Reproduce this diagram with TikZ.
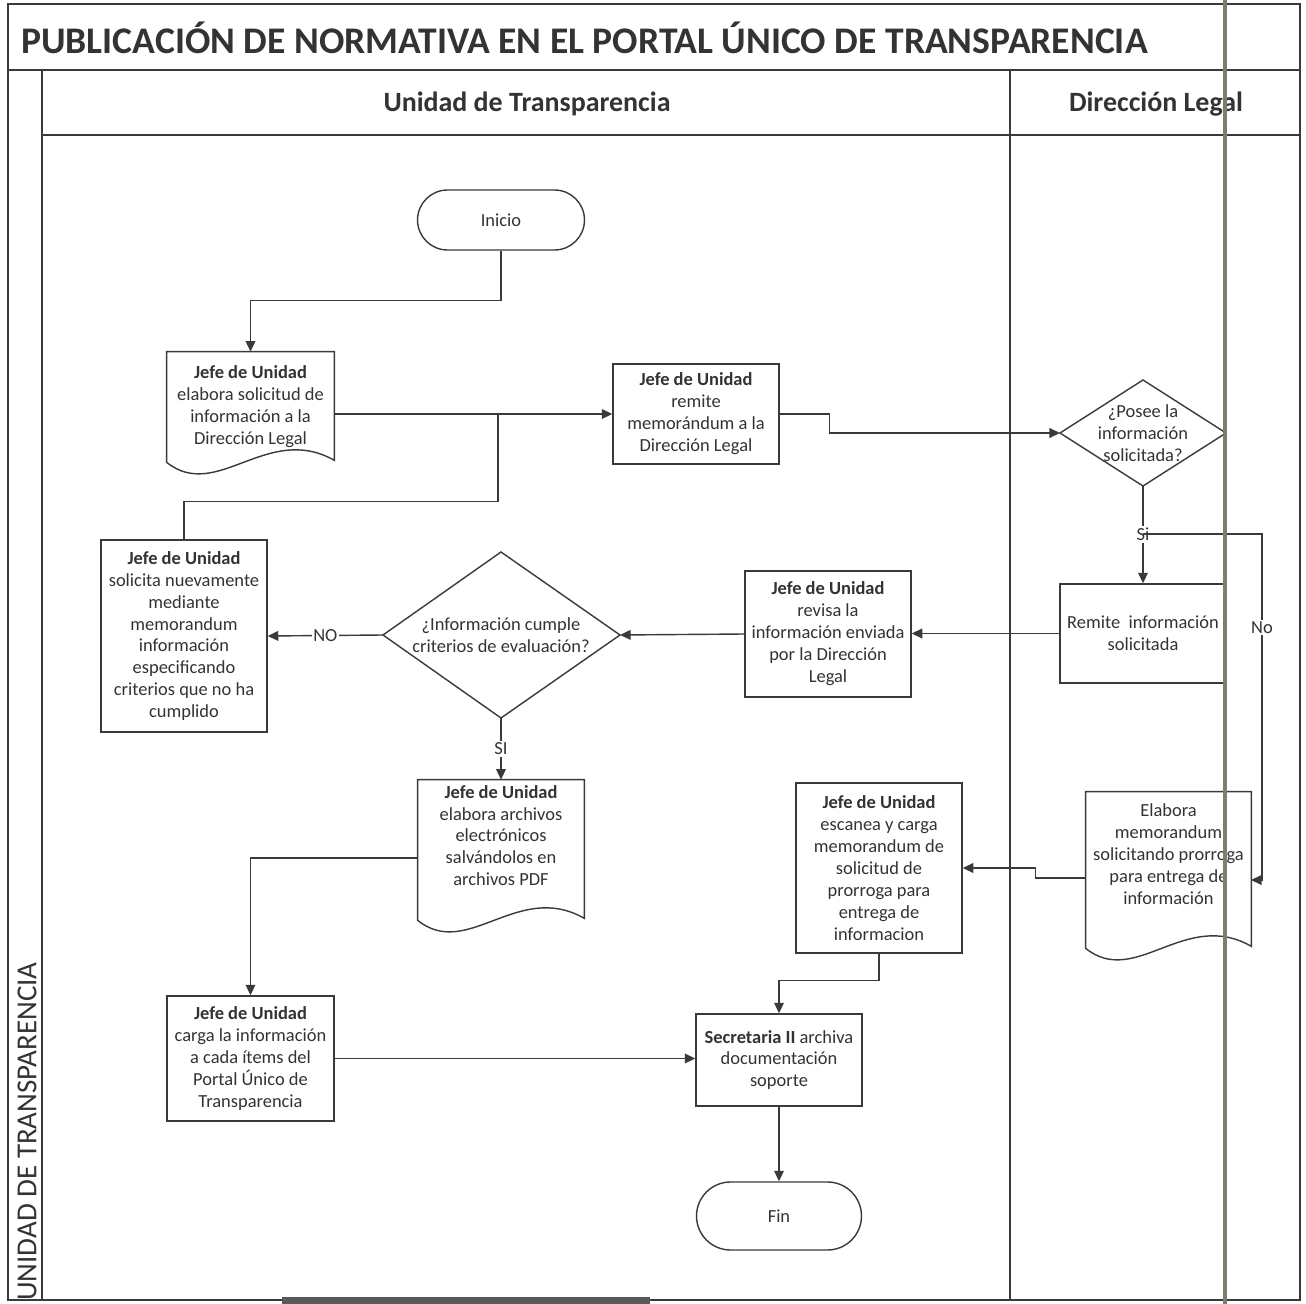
\documentclass[tikz,border=0pt]{standalone}
\usepackage{fontspec}
\setmainfont{Carlito}
\usetikzlibrary{arrows.meta,calc,shapes.misc}
\definecolor{ln}{HTML}{3A3A3A}
\definecolor{tx}{HTML}{333333}
\definecolor{paper}{HTML}{7D7D70}
\newcommand\fs{\fontsize{10.5}{12.5}\selectfont}
\newcommand\docoutline[1]{\draw[ln] (#1.north west) -- (#1.north east) -- ($(#1.south east)+(0,-2)$) .. controls ($(#1.south west)!0.6!(#1.south east)+(0,-40)$) and ($(#1.south west)!0.3!(#1.south east)+(0,40)$) .. (#1.south west) -- cycle;}
\begin{document}
\begin{tikzpicture}[x=0.02cm,y=-0.02cm,
  ln/.style={draw=ln, line width=0.8pt},
  frame/.style={draw=ln, line width=0.9pt},
  box/.style={draw=ln, line width=0.8pt, align=center, text=tx, font=\fs, inner sep=2pt},
  plain/.style={align=center, text=tx, font=\fs, inner sep=2pt},
  term/.style={box, rounded rectangle},
  arr/.style={draw=ln, line width=0.8pt, -{Triangle[length=6pt,width=5.5pt]}},
  lbl/.style={fill=white, text=tx, font=\fs, inner sep=1pt}]
\useasboundingbox (0,0) rectangle (1306,1304);
\fill[white] (0,0) rectangle (1306,1304);

% frame
\draw[frame] (8,4) rectangle (1300,1300);
\draw[frame] (8,70) -- (1300,70);
\draw[frame] (42,70) -- (42,1300);
\draw[frame] (42,135) -- (1300,135);
\draw[frame] (1010,70) -- (1010,1300);
\node[anchor=west, text=tx, font=\fontsize{21.4}{25}\selectfont\bfseries, inner sep=0pt] (title) at (21,38) {PUBLICACIÓN DE NORMATIVA EN EL PORTAL ÚNICO DE TRANSPARENCIA};
\node[text=tx, font=\fontsize{15.9}{19}\selectfont\bfseries] (h1) at (527,104) {Unidad de Transparencia};
\node[text=tx, font=\fontsize{15.9}{19}\selectfont\bfseries] (h2) at (1156,104) {Dirección Legal};
\node[rotate=90, anchor=west, text=tx, font=\fontsize{16.5}{20}\selectfont, inner sep=0pt] (lane) at (27,1301) {UNIDAD DE TRANSPARENCIA};

% nodes
\node[term, minimum width=174*0.02cm, minimum height=60*0.02cm] (ini) at (501,220) {Inicio};
\node[plain, minimum width=167*0.02cm, minimum height=110*0.02cm] (A) at (250.5,407) {\textbf{Jefe de Unidad}\\elabora solicitud de\\información a la\\Dirección Legal};
\docoutline{A}
\node[box, minimum width=166*0.02cm, minimum height=100*0.02cm] (B) at (696,414) {\textbf{Jefe de Unidad}\\remite\\memorándum a la\\Dirección Legal};
\node[plain] (d1) at (1143,433) {¿Posee la\\información\\solicitada?};
\coordinate (d1n) at (1143,380);
\coordinate (d1e) at (1226,433);
\coordinate (d1s) at (1143,486);
\coordinate (d1w) at (1060,433);
\draw[ln] (d1n) -- (d1e) -- (d1s) -- (d1w) -- cycle;
\node[box, minimum width=166*0.02cm, minimum height=99*0.02cm] (E) at (1143,633.5) {Remite \ información\\solicitada};
\node[box, minimum width=166*0.02cm, minimum height=126*0.02cm] (G) at (828,634) {\textbf{Jefe de Unidad}\\revisa la\\información enviada\\por la Dirección\\Legal};
\node[plain] (d2) at (501,635) {¿Información cumple\\criterios de evaluación?};
\coordinate (d2n) at (501,552);
\coordinate (d2e) at (620,635);
\coordinate (d2s) at (501,718);
\coordinate (d2w) at (383,635);
\draw[ln] (d2n) -- (d2e) -- (d2s) -- (d2w) -- cycle;
\node[box, minimum width=166*0.02cm, minimum height=192*0.02cm] (C) at (184,636) {\textbf{Jefe de Unidad}\\solicita nuevamente\\mediante\\memorandum\\información\\especificando\\criterios que no ha\\cumplido};
\node[plain, minimum width=166*0.02cm, minimum height=140*0.02cm] (H) at (501,850) {\textbf{Jefe de Unidad}\\elabora archivos\\electrónicos\\salvándolos en\\archivos PDF\\[4pt]};
\docoutline{H}
\node[plain, minimum width=165*0.02cm, minimum height=156*0.02cm] (F) at (1168.5,870) {Elabora\\memorandum\\solicitando prorroga\\para entrega de\\información\\[6pt]};
\docoutline{F}
\node[box, minimum width=166*0.02cm, minimum height=170*0.02cm] (K) at (879,868) {\textbf{Jefe de Unidad}\\escanea y carga\\memorandum de\\solicitud de\\prorroga para\\entrega de\\informacion};
\node[box, minimum width=167*0.02cm, minimum height=125*0.02cm] (I) at (250.5,1058.5) {\textbf{Jefe de Unidad}\\carga la información\\a cada ítems del\\Portal Único de\\Transparencia};
\node[box, minimum width=166*0.02cm, minimum height=92*0.02cm] (J) at (779,1060) {\textbf{Secretaria II} archiva\\documentación\\soporte};
\node[term, minimum width=172*0.02cm, minimum height=68*0.02cm] (fin) at (779,1216) {Fin};

% connectors
\coordinate (m1) at (498,414);
\draw[arr] (ini.south) -- ++(0,50) -| (A.north);
\draw[arr] (A.east |- B.west) -- (B.west);
\draw[ln] (C.north) -- ++(0,-38) -| (m1);
\draw[arr] (B.east) -- ++(50,0) |- (d1w);
\draw[arr] (d1s) -- node[lbl, pos=0.5]{Si} (E.north);
\coordinate (br) at (1143,534);
\draw[arr] (br) -- ++(119,0) -- node[lbl, pos=0.27]{No} ++(0,346) -- ++(-11,0);
\draw[arr] (E.west) -- (E.west -| G.east);
\draw[arr] (G.west) -- (d2e);
\draw[arr] (d2w) -- node[lbl]{NO} (C.east);
\draw[arr] (d2s) -- node[lbl]{SI} (H.north);
\draw[arr] ([yshift=-0.16cm]H.west) -| (I.north);
\draw[arr] (I.east) -- (I.east -| J.west);
\draw[arr] (J.south) -- (fin.north);
\draw[arr] ([yshift=-0.16cm]F.west) -- ++(-50,0) |- (K.east);
\draw[arr] (K.south) -- ++(0,27) -| (J.north);

% paper edge and scan artifact
\draw[paper, line width=2.8pt] (1225,0) -- (1225,1304);
\fill[gray!70!black] (282,1297) rectangle (650,1304);
\end{tikzpicture}
\end{document}
